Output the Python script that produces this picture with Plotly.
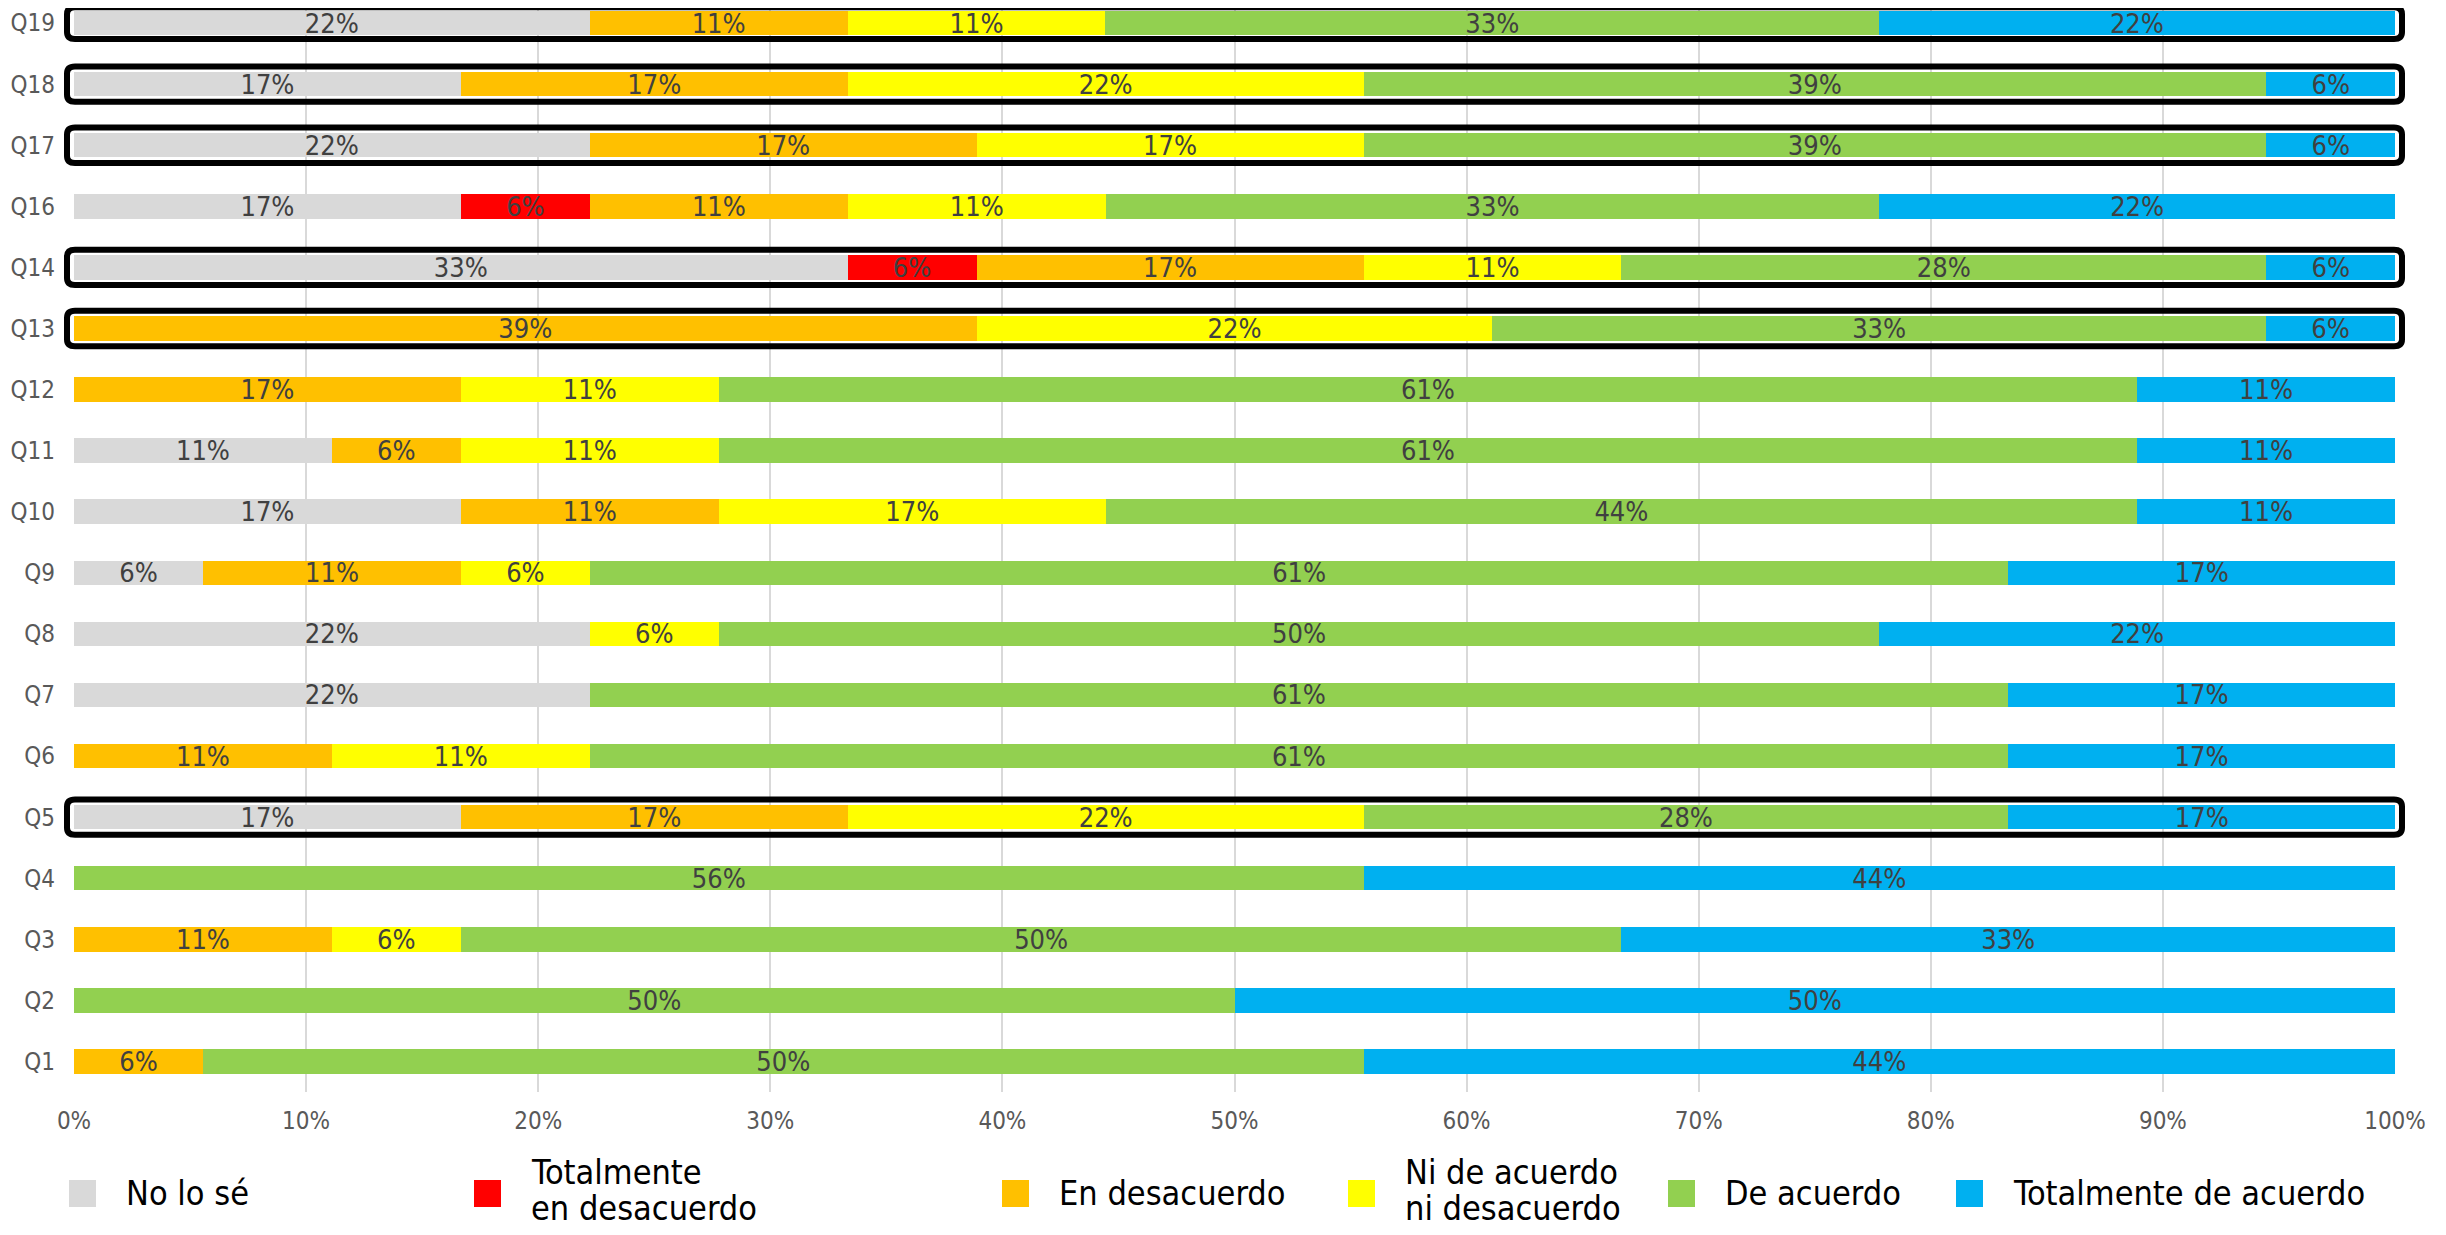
import plotly.graph_objects as go

categories = ["Q1", "Q2", "Q3", "Q4", "Q5", "Q6", "Q7", "Q8", "Q9", "Q10",
              "Q11", "Q12", "Q13", "Q14", "Q16", "Q17", "Q18", "Q19"]

series_names = ["No lo sé", "Totalmente en desacuerdo", "En desacuerdo",
                "Ni de acuerdo ni desacuerdo", "De acuerdo", "Totalmente de acuerdo"]
legend_lines = [["No lo sé"], ["Totalmente", "en desacuerdo"], ["En desacuerdo"],
                ["Ni de acuerdo", "ni desacuerdo"], ["De acuerdo"], ["Totalmente de acuerdo"]]
colors = ["#D9D9D9", "#FF0000", "#FFC000", "#FFFF00", "#92D050", "#00B0F0"]

N = None
no_lo_se =      [N, N, N, N, 16.67, N, 22.22, 22.22, 5.56, 16.67, 11.11, N, N, 33.33, 16.67, 22.22, 16.67, 22.22]
tot_desac =     [N, N, N, N, N, N, N, N, N, N, N, N, N, 5.56, 5.56, N, N, N]
en_desac =      [5.56, N, 11.11, N, 16.67, 11.11, N, N, 11.11, 11.11, 5.56, 16.67, 38.89, 16.67, 11.11, 16.67, 16.67, 11.11]
ni_ni =         [N, N, 5.56, N, 22.22, 11.11, N, 5.56, 5.56, 16.67, 11.11, 11.11, 22.22, 11.11, 11.11, 16.67, 22.22, 11.11]
de_acuerdo =    [50, 50, 50, 55.56, 27.78, 61.11, 61.11, 50, 61.11, 44.44, 61.11, 61.11, 33.33, 27.78, 33.33, 38.89, 38.89, 33.33]
tot_acuerdo =   [44.44, 50, 33.33, 44.44, 16.67, 16.67, 16.67, 22.22, 16.67, 11.11, 11.11, 11.11, 5.56, 5.56, 22.22, 5.56, 5.56, 22.22]

series_values = [no_lo_se, tot_desac, en_desac, ni_ni, de_acuerdo, tot_acuerdo]

highlighted = ["Q5", "Q13", "Q14", "Q17", "Q18", "Q19"]

x_ticks = [0, 10, 20, 30, 40, 50, 60, 70, 80, 90, 100]
x_tick_labels = ["0%", "10%", "20%", "30%", "40%", "50%", "60%", "70%", "80%", "90%", "100%"]

FONT = "Liberation Sans Narrow, DejaVu Sans Condensed, Arial Narrow, sans-serif"

# The page body has an 8px default margin, so the figure is drawn 8px in.
OFF = 8
W, H = 2446 - 2 * OFF, 1235 - 2 * OFF
ML, MR, MT, MB = 74 - OFF, 2446 - 2395 - OFF, 0, H - (1092 - OFF)
PW = W - ML - MR
PH = H - MT - MB
Y_RANGE = [-0.5, 17.246]

ypos = list(range(len(categories)))

fig = go.Figure()
for name, vals, col in zip(series_names, series_values, colors):
    fig.add_trace(go.Bar(
        y=ypos, x=vals, orientation="h", name=name,
        marker=dict(color=col, line=dict(width=0)),
        width=0.4,
        text=[("%.0f%%" % v) if v is not None else "" for v in vals],
        textposition="inside", insidetextanchor="middle",
        textangle=0, constraintext="none",
        textfont=dict(family=FONT, size=27, color="#404040"),
        showlegend=False,
    ))


def px_to_paper_x(px):
    return (px - OFF - ML) / PW


def px_to_paper_y(py):
    return (H - MB - (py - OFF)) / PH


def data_y_to_paper(v):
    return (v - Y_RANGE[0]) / (Y_RANGE[1] - Y_RANGE[0])


def rounded_path(x0, x1, y0, y1, rx, ry):
    return (f"M {x0+rx},{y0} L {x1-rx},{y0} Q {x1},{y0} {x1},{y0+ry} "
            f"L {x1},{y1-ry} Q {x1},{y1} {x1-rx},{y1} L {x0+rx},{y1} "
            f"Q {x0},{y1} {x0},{y1-ry} L {x0},{y0+ry} Q {x0},{y0} {x0+rx},{y0} Z")


shapes = []
bx0, bx1 = px_to_paper_x(67), px_to_paper_x(2402)
brx = 8 / PW
bry = 7 / PH
for q in highlighted:
    i = categories.index(q)
    half = 0.26 if q == "Q19" else 0.29
    shapes.append(dict(type="path", xref="paper", yref="paper",
                       path=rounded_path(bx0, bx1, data_y_to_paper(i - half),
                                         data_y_to_paper(i + half), brx, bry),
                       line=dict(color="#000000", width=6), layer="above"))

# custom legend (square markers + labels), positions in reference pixels
legend_marker_px = [69, 474, 1002, 1348, 1668, 1956]
annotations = []
for lines, col, mx in zip(legend_lines, colors, legend_marker_px):
    shapes.append(dict(type="rect", xref="paper", yref="paper",
                       x0=px_to_paper_x(mx), x1=px_to_paper_x(mx + 27),
                       y0=px_to_paper_y(1180), y1=px_to_paper_y(1207),
                       fillcolor=col, line=dict(width=0)))
    line_y = [1193] if len(lines) == 1 else [1172, 1208]
    for txt, ly in zip(lines, line_y):
        annotations.append(dict(xref="paper", yref="paper",
                                x=px_to_paper_x(mx + 56), y=px_to_paper_y(ly),
                                xanchor="left", yanchor="middle", align="left",
                                text=txt, showarrow=False, borderpad=0,
                                font=dict(family=FONT, size=34, color="#000000")))

fig.update_layout(
    width=W, height=H,
    barmode="stack",
    plot_bgcolor="white", paper_bgcolor="white",
    margin=dict(l=ML, r=MR, t=MT, b=MB),
    shapes=shapes, annotations=annotations,
    xaxis=dict(range=[0, 100], tickvals=x_ticks, ticktext=x_tick_labels,
               showgrid=True, gridcolor="#D9D9D9", gridwidth=1.5,
               zeroline=False, showline=False,
               tickfont=dict(family=FONT, size=24, color="#595959"),
               ticklabelstandoff=12),
    yaxis=dict(range=Y_RANGE, tickvals=ypos, ticktext=categories,
               showgrid=False, zeroline=False, showline=False,
               tickfont=dict(family=FONT, size=24, color="#595959"),
               ticklabelstandoff=18),
    showlegend=False,
)

fig.write_html("out.html")
